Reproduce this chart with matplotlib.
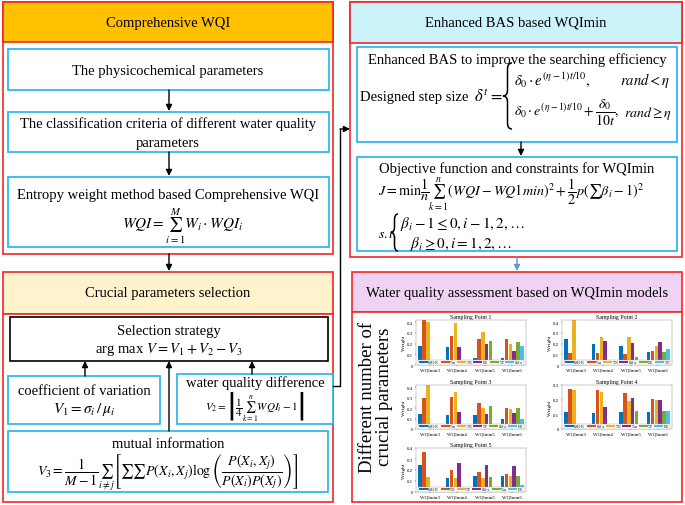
#flowchart of the WQImin framework with small weight bar charts
import matplotlib.pyplot as plt
import matplotlib.patches as patches
from matplotlib.path import Path
import numpy as np

plt.rcParams['font.family'] = ['Liberation Serif', 'DejaVu Serif']
plt.rcParams['mathtext.fontset'] = 'stix'

#data for the small bar charts (weights)
groups = ['WQImin3', 'WQImin4', 'WQImin5', 'WQImin6']
colors = ['#0072BD', '#D95319', '#EDB120', '#7E2F8E', '#77AC30', '#4DBEEE']

sp1_params = ['NH3-N', 'Tur', 'TN', 'DO', 'TP', 'Chl-a']
sp1_w = [[0.18, 0.42, 0.40],
         [0.165, 0.275, 0.39, 0.17],
         [0.07, 0.245, 0.31, 0.195, 0.22],
         [0.065, 0.24, 0.195, 0.13, 0.215, 0.175]]

sp2_params = ['NH3-N', 'Tur', 'TN', 'Chl-a', 'DO', 'TP']
sp2_w = [[0.24, 0.115, 0.43],
         [0.2, 0.11, 0.265, 0.22],
         [0.18, 0.1, 0.26, 0.21, 0.075],
         [0.12, 0.13, 0.18, 0.215, 0.125, 0.145]]

sp3_params = ['NH3-N', 'Tur', 'TN', 'TP', 'Chl-a', 'DO']
sp3_w = [[0.14, 0.295, 0.44],
         [0.13, 0.31, 0.35, 0.16],
         [0.135, 0.25, 0.2, 0.14, 0.215],
         [0.1, 0.205, 0.195, 0.155, 0.205, 0.1]]

sp4_params = ['NH3-N', 'Chl-a', 'TN', 'Tur', 'TP', 'DO']
sp4_w = [[0.115, 0.275, 0.265],
         [0.11, 0.265, 0.25, 0.15],
         [0.115, 0.245, 0.19, 0.21, 0.12],
         [0.115, 0.205, 0.195, 0.195, 0.125, 0.125]]

sp5_params = ['NH3-N', 'TN', 'TP', 'Chl-a', 'Tur', 'DO']
sp5_w = [[0.25, 0.365, 0.14],
         [0.125, 0.2, 0.13, 0.26],
         [0.15, 0.185, 0.125, 0.245, 0.14],
         [0.15, 0.165, 0.145, 0.235, 0.145, 0.065]]

W, H = 685, 506
RED = '#F02828'
BLUE = '#1FB4EE'

fig = plt.figure(figsize=(W/100, H/100), dpi=100)
ax = fig.add_axes([0, 0, 1, 1])
ax.set_xlim(0, W)
ax.set_ylim(H, 0)
ax.axis('off')

def box(x0, y0, x1, y1, ec, fc='white', lw=1.2):
    ax.add_patch(patches.Rectangle((x0, y0), x1-x0, y1-y0, ec=ec, fc=fc, lw=lw))

def txt(x, y, s, size=10.5, ha='center', **kw):
    ax.text(x, y, s, fontsize=size, ha=ha, va='center', **kw)

def arrow(x, y0, y1, color='k'):
    ax.annotate('', xy=(x, y1), xytext=(x, y0),
                arrowprops=dict(arrowstyle='-|>', color=color, lw=1, mutation_scale=9,
                                shrinkA=0, shrinkB=0))

def brace(x, y0, y1, w=7):
    # left curly brace, tip at x, spanning y0..y1
    ym = (y0 + y1) / 2
    q = min(6, (y1 - y0) / 6)
    xm = x + w/2
    verts = [(x+w, y0), (xm, y0), (xm, y0+q), (xm, ym-q), (xm, ym), (x, ym),
             (xm, ym), (xm, ym+q), (xm, y1-q), (xm, y1), (x+w, y1)]
    codes = [Path.MOVETO, Path.CURVE3, Path.CURVE3, Path.LINETO, Path.CURVE3, Path.CURVE3,
             Path.CURVE3, Path.CURVE3, Path.LINETO, Path.CURVE3, Path.CURVE3]
    ax.add_patch(patches.PathPatch(Path(verts, codes), fc='none', ec='k', lw=1.1))

# ---- left top: Comprehensive WQI
box(3, 3, 333, 255, RED)
box(3, 3, 333, 43, RED, '#FFC000')
txt(168, 23, 'Comprehensive WQI')
box(8, 50, 329, 91, BLUE)
txt(168, 71, 'The physicochemical parameters')
arrow(169, 91, 112)
box(8, 113, 329, 153, BLUE)
txt(168, 124, 'The classification criteria of different water quality')
txt(168, 143, 'parameters')
arrow(169, 153, 177)
box(8, 178, 329, 248, BLUE)
txt(168, 196, 'Entropy weight method based Comprehensive WQI')
txt(183, 226, r'$WQI=\sum_{i=1}^{M}W_i\cdot WQI_i$', size=11)
arrow(169, 255, 272)

# ---- left bottom: Crucial parameters selection
box(3, 273, 333, 315, RED, '#FFF2CC')
txt(168, 294, 'Crucial parameters selection')
box(3, 315, 333, 503, RED)
box(10, 318, 328, 362, 'black')
txt(169, 332, 'Selection strategy')
txt(169, 350, r'arg max $V=V_1+V_2-V_3$')
box(8, 377, 160, 425, BLUE)
txt(84, 392, 'coefficient of variation')
txt(84, 410, r'$V_1=\sigma_i\,/\,\mu_i$', size=11)
box(177, 375, 333, 425, BLUE)
txt(255, 383, 'water quality difference')
txt(255, 407, r'$V_2=\left|\dfrac{1}{4}\sum_{k=1}^{n}WQI_i-1\right|$', size=8)
box(8, 432, 328, 493, BLUE)
txt(168, 445, 'mutual information')
txt(168, 473, r'$V_3=\dfrac{1}{M-1}\sum_{i\neq j}\left[\sum\sum P\left(X_i,X_j\right)\log\left(\dfrac{P\left(X_i,X_j\right)}{P(X_i)P\left(X_j\right)}\right)\right]$', size=10)
arrow(85, 377, 362)
arrow(169, 432, 362)
arrow(252, 375, 362)

# connector to the right column
ax.plot([333, 340, 340], [387, 387, 130], color='k', lw=1)
ax.annotate('', xy=(350, 130), xytext=(340, 130),
            arrowprops=dict(arrowstyle='-|>', color='k', lw=1, mutation_scale=9,
                            shrinkA=0, shrinkB=0))

# ---- right top: Enhanced BAS
box(350, 3, 682, 258, RED)
box(350, 3, 682, 44, RED, '#CCF2FA')
txt(516, 23, 'Enhanced BAS based WQImin')
box(357, 48, 677, 143, BLUE)
txt(517, 60, 'Enhanced BAS to improve the searching efficiency')
txt(360, 97, 'Designed step size', ha='left')
txt(474, 97, r'$\delta^t=$', size=12, ha='left')
brace(503, 64, 130, w=9)
txt(514, 80, r'$\delta_0\cdot e^{(\eta-1)t/10},$', size=10.5, ha='left')
txt(670, 80, r'$rand<\eta$', size=10.5, ha='right')
txt(514, 113, r'$\delta_0\cdot e^{(\eta-1)t/10}+\dfrac{\delta_0}{10t},$', size=10, ha='left')
txt(672, 113, r'$rand\geq\eta$', size=10, ha='right')
arrow(521, 143, 157)
box(357, 158, 677, 252, BLUE)
txt(517, 169, 'Objective function and constraints for WQImin')
txt(378, 194, r'$J=\min\dfrac{1}{n}\sum_{k=1}^{n}\left(WQI-WQ1min\right)^2+\dfrac{1}{2}p\left(\sum\beta_i-1\right)^2$',
    size=10.2, ha='left')
txt(378, 234, r'$s.t.$', size=10, ha='left')
brace(391, 215, 252, w=7)
txt(400, 224, r'$\beta_i-1\leq0,i-1,2,\ldots$', size=11, ha='left')
txt(410, 244, r'$\beta_i\geq0,i=1,2,\ldots$', size=11, ha='left')
arrow(517, 258, 272, color='#5B9BD5')

# ---- right bottom: assessment
box(352, 273, 682, 313, RED, '#F0D2F2')
txt(517, 293, 'Water quality assessment based on WQImin models')
box(352, 313, 682, 503, RED)
txt(376, 397, 'Different number of\ncrucial parameters', size=13.5, rotation=90, linespacing=1.0)

def small_chart(x0, y0, x1, y1, title, params, weights, ymax, yticks):
    a = fig.add_axes([x0/W, 1-y1/H, (x1-x0)/W, (y1-y0)/H])
    slot = 0.84/6
    for k in range(6):
        vals = [w[k] if k < len(w) else 0 for w in weights]
        xs = np.arange(1, 5) - 0.42 + slot*(k+0.5)
        a.bar(xs, vals, width=slot*0.92, color=colors[k], label=params[k])
    a.set_xlim(0.5, 4.5)
    a.set_ylim(0, ymax)
    a.set_yticks(yticks)
    a.set_yticklabels([('%g' % t) for t in yticks])
    a.set_xticks(range(1, 5))
    a.set_xticklabels(groups)
    a.tick_params(labelsize=3.5, length=1, width=0.3, pad=1)
    a.set_ylabel('Weight', fontsize=3.8, labelpad=1)
    a.set_title(title, fontsize=4.2, pad=1.5)
    for s in a.spines.values():
        s.set_linewidth(0.3)
        s.set_color('#888888')
    leg = a.legend(loc='lower center', ncol=6, fontsize=2.6, handlelength=2.4, handleheight=0.7,
                   columnspacing=0.5, handletextpad=0.25, borderpad=0.15, framealpha=1,
                   edgecolor='#999999', borderaxespad=0.1)
    leg.get_frame().set_linewidth(0.3)

small_chart(416, 321, 526, 366, 'Sampling Point 1', sp1_params, sp1_w, 0.42, [0, 0.1, 0.2, 0.3, 0.4])
small_chart(562, 321, 672, 366, 'Sampling Point 2', sp2_params, sp2_w, 0.42, [0, 0.1, 0.2, 0.3, 0.4])
small_chart(416, 386, 526, 430, 'Sampling Point 3', sp3_params, sp3_w, 0.42, [0, 0.1, 0.2, 0.3, 0.4])
small_chart(562, 386, 672, 430, 'Sampling Point 4', sp4_params, sp4_w, 0.3, [0, 0.1, 0.2, 0.3])
small_chart(416, 449, 526, 493, 'Sampling Point 5', sp5_params, sp5_w, 0.4, [0, 0.1, 0.2, 0.3, 0.4])

plt.savefig('out.png', dpi=100)
